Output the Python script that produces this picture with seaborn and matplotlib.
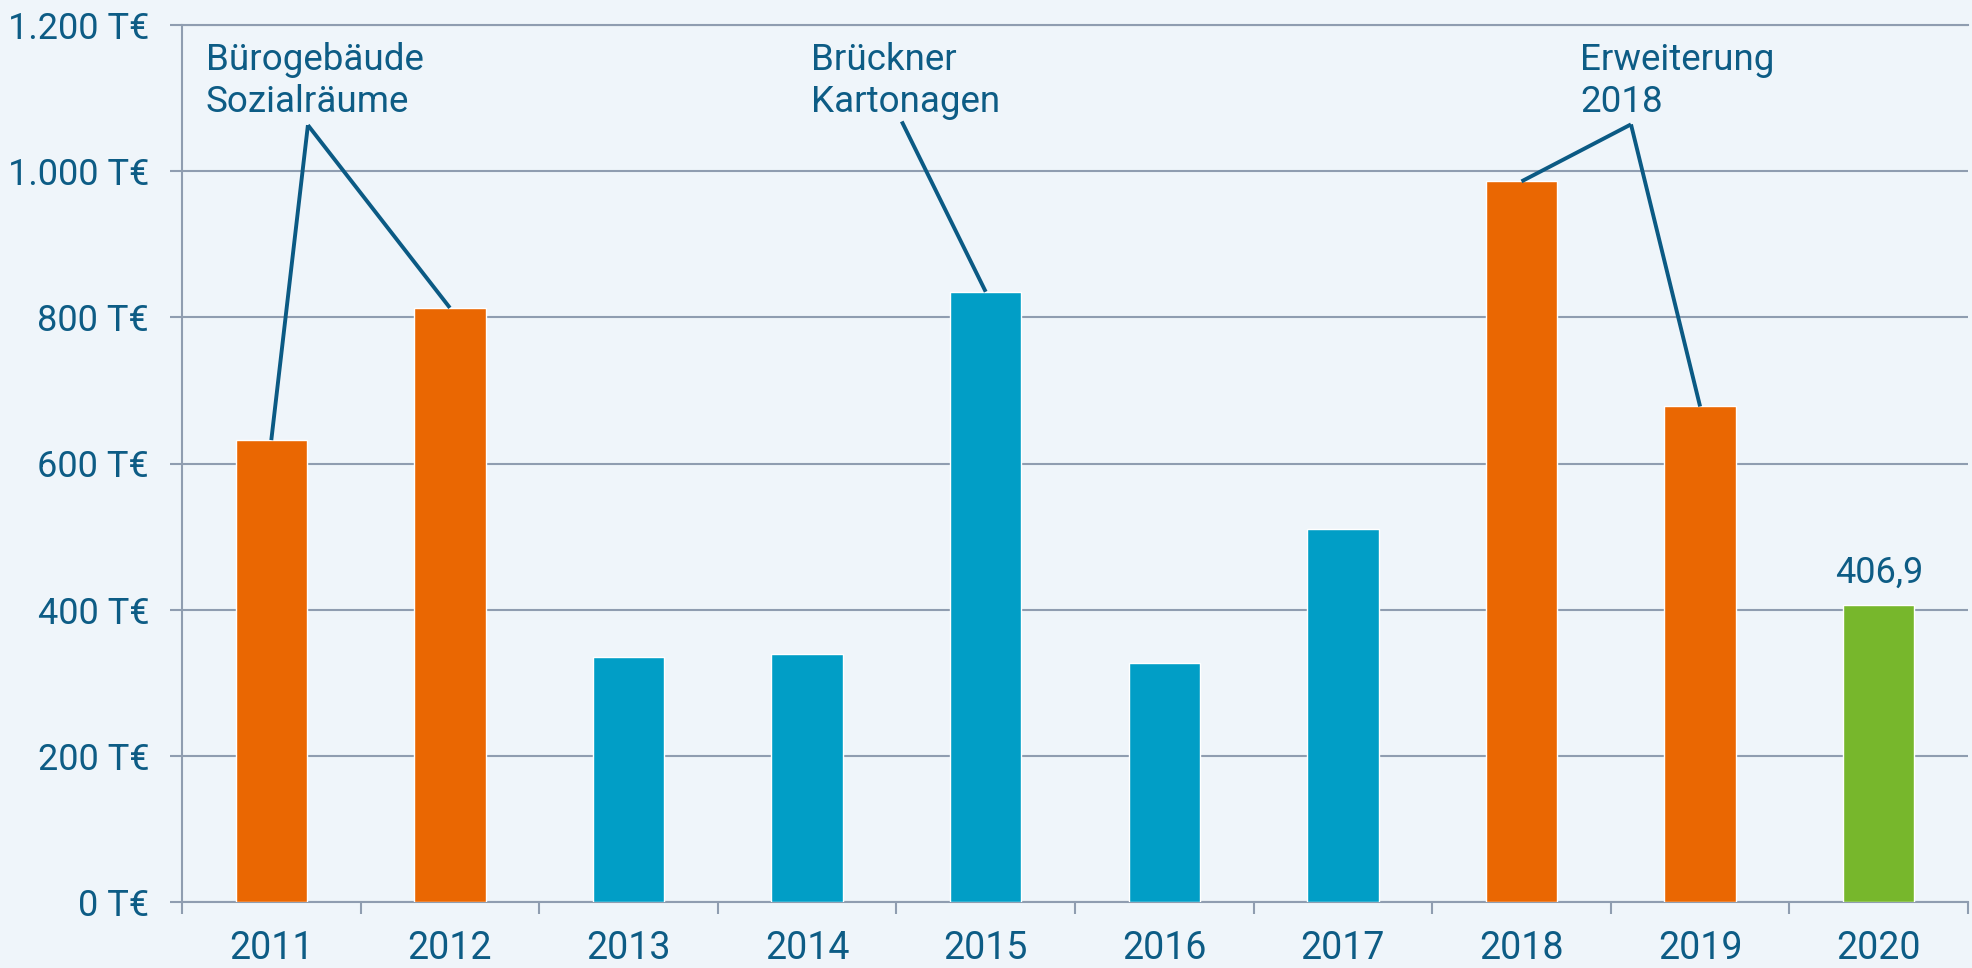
import matplotlib
matplotlib.use("Agg")
import matplotlib.pyplot as plt
from matplotlib.ticker import FixedLocator
import seaborn as sns
import pandas as pd

# data (T€)
years = ["2011", "2012", "2013", "2014", "2015", "2016", "2017", "2018", "2019", "2020"]
values = [632, 813, 335, 340, 835, 327, 511, 986, 678, 406.9]
kinds = ["Bau", "Bau", "Regulär", "Regulär", "Regulär", "Regulär", "Regulär", "Bau", "Bau", "Aktuell"]
y_ticks = [0, 200, 400, 600, 800, 1000, 1200]
y_tick_labels = ["0 T€", "200 T€", "400 T€", "600 T€", "800 T€", "1.000 T€", "1.200 T€"]

# callouts: text, bars the leader lines point to
callouts = [
    ("Bürogebäude\nSozialräume", ["2011", "2012"]),
    ("Brückner\nKartonagen", ["2015"]),
    ("Erweiterung\n2018", ["2018", "2019"]),
]

palette = {"Bau": "#ea6702", "Regulär": "#019ec6", "Aktuell": "#77b72c"}
bg = "#eff5fa"
grid_col = "#8f9db0"
text_col = "#0d5c85"
line_col = "#0b5a84"

sns.set_theme(style="white")
plt.rcParams["font.family"] = ["Roboto", "DejaVu Sans"]

df = pd.DataFrame({"year": years, "value": values, "kind": kinds})

fig = plt.figure(figsize=(19.72, 9.68), dpi=100, facecolor=bg)
ax = fig.add_axes([182 / 1972, 1 - 902 / 968, (1968 - 182) / 1972, (902 - 25) / 968])
ax.set_facecolor(bg)

sns.barplot(data=df, x="year", y="value", hue="kind", palette=palette,
            width=0.4, dodge=False, legend=False, saturation=1, ax=ax, zorder=3)

ax.set_xlim(-0.5, len(years) - 0.5)
ax.set_ylim(0, 1200)
ax.set_xlabel("")
ax.set_ylabel("")

# y axis
ax.set_yticks(y_ticks)
ax.set_yticklabels(y_tick_labels)
ax.yaxis.grid(True, color=grid_col, lw=1.5, zorder=1)
ax.set_axisbelow(True)
ax.tick_params(axis="y", length=8.6, width=1.5, color=grid_col, pad=15,
               labelsize=26, labelcolor=text_col, left=True)

# x axis: labels at bar centres, tick marks at category borders
ax.set_xticks(range(len(years)))
ax.set_xticklabels(years)
ax.xaxis.set_minor_locator(FixedLocator([i - 0.5 for i in range(len(years) + 1)]))
ax.tick_params(axis="x", which="major", length=0, pad=20, labelsize=27, labelcolor=text_col)
ax.tick_params(axis="x", which="minor", length=8.6, width=1.5, color=grid_col, bottom=True)

for side in ["left", "bottom", "top"]:
    ax.spines[side].set_color(grid_col)
    ax.spines[side].set_linewidth(1.5)
ax.spines["right"].set_visible(False)

# callout text and leader lines
text_x = [-0.366, 3.022, 7.328]
apex = [(0.205, 1063), (3.53, 1068), (7.613, 1064)]
pos = {y: i for i, y in enumerate(years)}
for (label, targets), tx, (ax_x, ax_y) in zip(callouts, text_x, apex):
    ax.text(tx, 1081, label, ha="left", va="baseline", fontsize=26.5,
            color=text_col, linespacing=1.2)
    for t in targets:
        i = pos[t]
        ax.plot([ax_x, i], [ax_y, values[i]], color=line_col, lw=2.8,
                solid_capstyle="butt", zorder=4)

# value label for the last year
last = len(values) - 1
ax.text(last, values[last] + 30, f"{values[last]:.1f}".replace(".", ","),
        ha="center", va="baseline", fontsize=26, color=text_col)

fig.savefig("out.png", dpi=100, facecolor=bg)
